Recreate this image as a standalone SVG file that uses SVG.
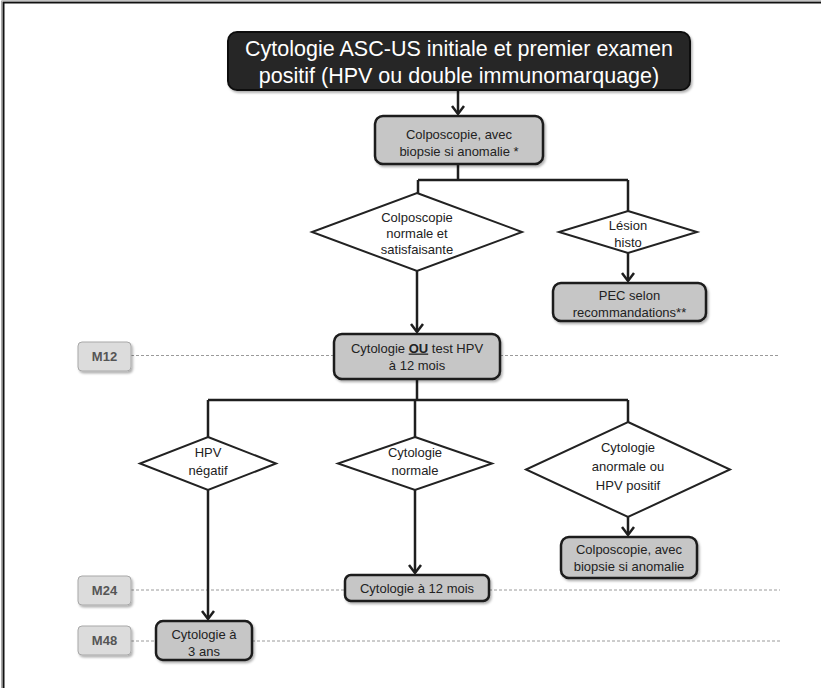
<svg xmlns="http://www.w3.org/2000/svg" width="821" height="688" viewBox="0 0 821 688">
<defs>
<marker id="arr" markerUnits="userSpaceOnUse" markerWidth="20" markerHeight="20" viewBox="-12 -10 14 20" refX="0" refY="0" orient="auto">
<path d="M-8,-6 L0,0 L-8,6" fill="none" stroke="#1e1e1e" stroke-width="2.5" stroke-linejoin="miter"/>
</marker>
<filter id="sh" x="-10%" y="-10%" width="130%" height="140%">
<feDropShadow dx="1.5" dy="2" stdDeviation="1.2" flood-color="#000" flood-opacity="0.3"/>
</filter>
</defs>
<style>
.t{font-family:"Liberation Sans",Arial,sans-serif;font-size:13px;fill:#222;text-anchor:middle}
.title{font-family:"Liberation Sans",Arial,sans-serif;font-size:21.5px;fill:#fff;text-anchor:middle}
.box{fill:#c6c6c6;stroke:#1a1a1a;stroke-width:2.5}
.dia{fill:#fff;stroke:#222;stroke-width:2}
.con{fill:none;stroke:#1e1e1e;stroke-width:2.5}
.dash{fill:none;stroke:#9a9a9a;stroke-width:1;stroke-dasharray:3 2}
.mbox{fill:#dcdcdc;stroke:#a8a8a8;stroke-width:1}
.mt{font-family:"Liberation Sans",Arial,sans-serif;font-size:13px;font-weight:bold;fill:#555;text-anchor:middle}
</style>
<rect width="821" height="688" fill="#fff"/>
<path d="M3.5,688 V2.5 H821" fill="none" stroke="#111" stroke-width="2"/>
<path d="M1.5,688 V0.8 H821" fill="none" stroke="#aaa" stroke-width="1"/>

<g id="timeline">
<path class="dash" d="M131,355.5 H334 M500,355.5 H780"/>
<path class="dash" d="M131,590 H345 M489,590 H780"/>
<path class="dash" d="M131,641 H156 M252,641 H780"/>
</g>

<g id="connectors">
<path class="con" d="M458,90 V114" marker-end="url(#arr)"/>
<path class="con" d="M458,164 V180 M418,180 H628 M418,180 V193 M628,180 V211"/>
<path class="con" d="M628,253 V281" marker-end="url(#arr)"/>
<path class="con" d="M417,271 V332" marker-end="url(#arr)"/>
<path class="con" d="M417,379 V400 M208,400 H628 M208,400 V437 M415,400 V437 M628,400 V422"/>
<path class="con" d="M628,517 V535" marker-end="url(#arr)"/>
<path class="con" d="M415,490 V573" marker-end="url(#arr)"/>
<path class="con" d="M208,490 V619" marker-end="url(#arr)"/>
</g>

<g id="start">
<rect x="228" y="32" width="462" height="58" rx="9" fill="#262626" stroke="#111" stroke-width="2" filter="url(#sh)"/>
<text class="title" x="459" y="56">Cytologie ASC-US initiale et premier examen</text>
<text class="title" x="459" y="83">positif (HPV ou double immunomarquage)</text>
</g>

<g id="colpo1">
<rect class="box" x="375" y="116" width="168" height="48" rx="8" filter="url(#sh)"/>
<text class="t" x="459" y="138.5">Colposcopie, avec</text>
<text class="t" x="459" y="155.5">biopsie si anomalie *</text>
</g>

<g id="d-normale">
<polygon class="dia" points="417,193 522,232 417,271 312,232"/>
<text class="t" x="417" y="221.5">Colposcopie</text>
<text class="t" x="417" y="237.5">normale et</text>
<text class="t" x="417" y="253.5">satisfaisante</text>
</g>

<g id="d-lesion">
<polygon class="dia" points="628,211 697,232 628,253 559,232"/>
<text class="t" x="628" y="229.5">Lésion</text>
<text class="t" x="628" y="246.5">histo</text>
</g>

<g id="pec">
<rect class="box" x="553" y="283" width="153" height="38" rx="8" filter="url(#sh)"/>
<text class="t" x="629.5" y="299.5">PEC selon</text>
<text class="t" x="629.5" y="316.5">recommandations**</text>
</g>

<g id="cyto-ou">
<rect class="box" x="334" y="334" width="166" height="45" rx="8" filter="url(#sh)"/>
<text class="t" x="417" y="352.5">Cytologie <tspan font-weight="bold" text-decoration="underline">OU</tspan> test HPV</text>
<text class="t" x="417" y="369.5">à 12 mois</text>
</g>

<g id="d-hpvneg">
<polygon class="dia" points="208,437 276,463.5 208,490 140,463.5"/>
<text class="t" x="208" y="456.5">HPV</text>
<text class="t" x="208" y="474.5">négatif</text>
</g>

<g id="d-cytonorm">
<polygon class="dia" points="415,437 492,463.5 415,490 338,463.5"/>
<text class="t" x="415" y="456.5">Cytologie</text>
<text class="t" x="415" y="474.5">normale</text>
</g>

<g id="d-anormale">
<polygon class="dia" points="628,422 730,469.5 628,517 526,469.5"/>
<text class="t" x="628" y="451.5">Cytologie</text>
<text class="t" x="628" y="470.5">anormale ou</text>
<text class="t" x="628" y="489.5">HPV positif</text>
</g>

<g id="colpo2">
<rect class="box" x="561" y="537" width="136" height="41" rx="8" filter="url(#sh)"/>
<text class="t" x="629" y="553.5">Colposcopie, avec</text>
<text class="t" x="629" y="570.5">biopsie si anomalie</text>
</g>

<g id="cyto12">
<rect class="box" x="345" y="575" width="144" height="26" rx="6" filter="url(#sh)"/>
<text class="t" x="417" y="592.5">Cytologie à 12 mois</text>
</g>

<g id="cyto3">
<rect class="box" x="156" y="621" width="96" height="39" rx="7" filter="url(#sh)"/>
<text class="t" x="204" y="638.5">Cytologie à</text>
<text class="t" x="204" y="655.5">3 ans</text>
</g>

<g id="m12">
<rect class="mbox" x="78" y="342" width="53" height="29" rx="4" filter="url(#sh)"/>
<text class="mt" x="104.5" y="361">M12</text>
</g>
<g id="m24">
<rect class="mbox" x="78" y="576" width="53" height="29" rx="4" filter="url(#sh)"/>
<text class="mt" x="104.5" y="595">M24</text>
</g>
<g id="m48">
<rect class="mbox" x="78" y="626" width="53" height="29" rx="4" filter="url(#sh)"/>
<text class="mt" x="104.5" y="645">M48</text>
</g>
</svg>
